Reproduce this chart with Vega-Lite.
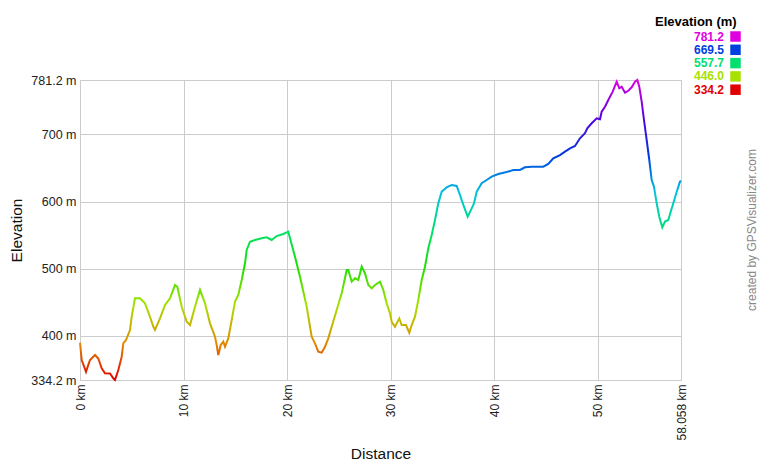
{
  "$schema": "https://vega.github.io/schema/vega-lite/v6.json",
  "autosize": "none",
  "width": 601,
  "height": 300,
  "padding": {"left": 80, "top": 80, "right": 79, "bottom": 80},
  "background": "white",
  "config": {
    "font": "Liberation Sans",
    "view": {"stroke": "#cccccc", "strokeWidth": 1}
  },
  "title": {
    "text": "created by GPSVisualizer.com",
    "orient": "right",
    "anchor": "middle",
    "angle": -90,
    "baseline": "top",
    "frame": "group",
    "offset": -6,
    "fontSize": 12,
    "fontWeight": "normal",
    "color": "#888888"
  },
  "datasets": {
    "profile": [
      {"km": 0.000, "ele": 390.0}, {"km": 0.164, "ele": 364.0}, {"km": 0.580, "ele": 346.6}, {"km": 0.966, "ele": 364.0},
      {"km": 1.449, "ele": 371.4}, {"km": 1.768, "ele": 366.2}, {"km": 2.096, "ele": 351.6}, {"km": 2.415, "ele": 344.2},
      {"km": 2.898, "ele": 344.0}, {"km": 3.217, "ele": 336.7}, {"km": 3.381, "ele": 334.2}, {"km": 3.700, "ele": 349.0},
      {"km": 4.028, "ele": 368.9}, {"km": 4.183, "ele": 388.8}, {"km": 4.444, "ele": 393.8}, {"km": 4.830, "ele": 408.7},
      {"km": 4.994, "ele": 428.5}, {"km": 5.313, "ele": 455.9}, {"km": 5.796, "ele": 455.9}, {"km": 6.279, "ele": 448.4},
      {"km": 6.762, "ele": 428.5}, {"km": 7.081, "ele": 413.6}, {"km": 7.245, "ele": 408.7}, {"km": 7.728, "ele": 426.0},
      {"km": 8.211, "ele": 445.9}, {"km": 8.694, "ele": 455.9}, {"km": 9.177, "ele": 475.7}, {"km": 9.399, "ele": 473.2},
      {"km": 9.824, "ele": 443.4}, {"km": 10.307, "ele": 421.0}, {"km": 10.626, "ele": 416.1}, {"km": 11.109, "ele": 443.4},
      {"km": 11.592, "ele": 468.3}, {"km": 12.075, "ele": 448.4}, {"km": 12.558, "ele": 418.6}, {"km": 13.041, "ele": 398.7},
      {"km": 13.205, "ele": 386.3}, {"km": 13.360, "ele": 371.4}, {"km": 13.592, "ele": 386.3}, {"km": 13.843, "ele": 391.3},
      {"km": 14.007, "ele": 383.8}, {"km": 14.326, "ele": 396.2}, {"km": 14.654, "ele": 423.6}, {"km": 14.973, "ele": 450.9},
      {"km": 15.292, "ele": 460.8}, {"km": 15.620, "ele": 483.2}, {"km": 15.939, "ele": 508.1}, {"km": 16.103, "ele": 527.9},
      {"km": 16.422, "ele": 540.3}, {"km": 16.905, "ele": 542.8}, {"km": 17.552, "ele": 545.3}, {"km": 18.035, "ele": 546.8},
      {"km": 18.518, "ele": 542.8}, {"km": 19.001, "ele": 548.7}, {"km": 19.639, "ele": 551.7}, {"km": 20.122, "ele": 555.2},
      {"km": 20.286, "ele": 545.3}, {"km": 20.769, "ele": 517.9}, {"km": 21.252, "ele": 488.1}, {"km": 21.899, "ele": 443.4},
      {"km": 22.382, "ele": 398.7}, {"km": 22.701, "ele": 388.8}, {"km": 23.020, "ele": 376.3}, {"km": 23.348, "ele": 374.9},
      {"km": 23.667, "ele": 383.8}, {"km": 23.986, "ele": 396.2}, {"km": 24.314, "ele": 413.6}, {"km": 24.797, "ele": 438.5},
      {"km": 25.280, "ele": 463.3}, {"km": 25.763, "ele": 498.0}, {"km": 25.918, "ele": 498.0}, {"km": 26.246, "ele": 480.7},
      {"km": 26.565, "ele": 485.7}, {"km": 26.884, "ele": 483.2}, {"km": 27.212, "ele": 503.0}, {"km": 27.531, "ele": 493.1},
      {"km": 27.850, "ele": 475.7}, {"km": 28.178, "ele": 470.8}, {"km": 28.497, "ele": 475.7}, {"km": 28.980, "ele": 480.7},
      {"km": 29.299, "ele": 468.3}, {"km": 29.627, "ele": 448.4}, {"km": 29.946, "ele": 433.5}, {"km": 30.110, "ele": 421.0},
      {"km": 30.429, "ele": 413.6}, {"km": 30.844, "ele": 426.0}, {"km": 31.076, "ele": 416.1}, {"km": 31.491, "ele": 416.1},
      {"km": 31.810, "ele": 404.6}, {"km": 32.042, "ele": 416.1}, {"km": 32.361, "ele": 428.5}, {"km": 32.680, "ele": 453.4},
      {"km": 33.008, "ele": 483.2}, {"km": 33.327, "ele": 503.0}, {"km": 33.646, "ele": 530.4}, {"km": 33.974, "ele": 550.2},
      {"km": 34.293, "ele": 572.6}, {"km": 34.612, "ele": 597.4}, {"km": 34.940, "ele": 614.8}, {"km": 35.423, "ele": 621.3},
      {"km": 35.906, "ele": 624.8}, {"km": 36.389, "ele": 623.3}, {"km": 36.708, "ele": 609.8}, {"km": 37.094, "ele": 592.4},
      {"km": 37.452, "ele": 577.5}, {"km": 37.838, "ele": 590.0}, {"km": 38.060, "ele": 597.4}, {"km": 38.321, "ele": 614.8},
      {"km": 38.804, "ele": 627.3}, {"km": 39.287, "ele": 632.2}, {"km": 39.770, "ele": 637.2}, {"km": 40.408, "ele": 641.1},
      {"km": 41.219, "ele": 644.0}, {"km": 41.857, "ele": 647.0}, {"km": 42.504, "ele": 647.1}, {"km": 42.987, "ele": 651.1},
      {"km": 43.634, "ele": 652.1}, {"km": 44.755, "ele": 652.1}, {"km": 45.238, "ele": 656.1}, {"km": 45.721, "ele": 664.5},
      {"km": 46.368, "ele": 669.4}, {"km": 46.851, "ele": 674.4}, {"km": 47.334, "ele": 679.4}, {"km": 47.817, "ele": 682.9},
      {"km": 48.300, "ele": 694.3}, {"km": 48.783, "ele": 701.8}, {"km": 49.005, "ele": 709.2}, {"km": 49.430, "ele": 716.7},
      {"km": 49.913, "ele": 724.1}, {"km": 50.232, "ele": 722.6}, {"km": 50.396, "ele": 733.9}, {"km": 50.715, "ele": 741.4},
      {"km": 51.034, "ele": 751.4}, {"km": 51.459, "ele": 763.8}, {"km": 51.845, "ele": 778.7}, {"km": 52.097, "ele": 768.8},
      {"km": 52.328, "ele": 771.2}, {"km": 52.647, "ele": 762.3}, {"km": 52.966, "ele": 765.2}, {"km": 53.294, "ele": 770.3},
      {"km": 53.613, "ele": 778.7}, {"km": 53.835, "ele": 781.2}, {"km": 54.028, "ele": 771.2}, {"km": 54.260, "ele": 748.9},
      {"km": 54.482, "ele": 721.6}, {"km": 54.743, "ele": 691.8}, {"km": 54.994, "ele": 662.0}, {"km": 55.226, "ele": 632.2},
      {"km": 55.448, "ele": 622.2}, {"km": 55.709, "ele": 597.4}, {"km": 55.960, "ele": 577.5}, {"km": 56.250, "ele": 561.7},
      {"km": 56.511, "ele": 570.2}, {"km": 56.830, "ele": 572.6}, {"km": 57.062, "ele": 585.0}, {"km": 57.313, "ele": 597.4},
      {"km": 57.642, "ele": 614.8}, {"km": 57.960, "ele": 629.7}, {"km": 58.058, "ele": 631.0}
    ],
    "legend": [
      {"lab": "781.2"}, {"lab": "669.5"}, {"lab": "557.7"}, {"lab": "446.0"}, {"lab": "334.2"}
    ]
  },
  "layer": [
    {
      "data": {"name": "profile"},
      "mark": {
        "type": "line",
        "strokeWidth": 2,
        "color": {
          "gradient": "linear",
          "x1": 0, "y1": 1, "x2": 0, "y2": 0,
          "stops": [
            {"offset": 0, "color": "#e00000"},
            {"offset": 0.125, "color": "#e08c00"},
            {"offset": 0.25, "color": "#a8e000"},
            {"offset": 0.375, "color": "#1ce000"},
            {"offset": 0.5, "color": "#00e070"},
            {"offset": 0.625, "color": "#00c4e0"},
            {"offset": 0.75, "color": "#0038e0"},
            {"offset": 0.875, "color": "#5400e0"},
            {"offset": 1, "color": "#e000e0"}
          ]
        }
      },
      "encoding": {
        "x": {
          "field": "km", "type": "quantitative",
          "scale": {"domain": [0, 58.058], "nice": false, "zero": false},
          "axis": {
            "values": [0, 10, 20, 30, 40, 50, 58.058],
            "labelExpr": "datum.value + ' km'",
            "labelAngle": 270,
            "labelAlign": "right",
            "labelBaseline": "middle",
            "labelFontSize": 12,
            "labelColor": "#222222",
            "labelPadding": 4,
            "labelOverlap": false,
            "labelFlush": false,
            "ticks": false,
            "domainColor": "#cccccc",
            "gridColor": "#cccccc",
            "title": "Distance",
            "titleFontSize": 15.5,
            "titleFontWeight": "normal",
            "titleColor": "#111111",
            "titleX": 300.5,
            "titleY": 78,
            "titleAlign": "center",
            "titleBaseline": "alphabetic"
          }
        },
        "y": {
          "field": "ele", "type": "quantitative",
          "scale": {"domain": [334.2, 781.2], "nice": false, "zero": false},
          "axis": {
            "values": [334.2, 400, 500, 600, 700, 781.2],
            "labelExpr": "datum.value + ' m'",
            "labelFontSize": 12.5,
            "labelColor": "#222222",
            "labelPadding": 4,
            "labelOverlap": false,
            "labelFlush": false,
            "ticks": false,
            "domainColor": "#cccccc",
            "gridColor": "#cccccc",
            "title": "Elevation",
            "titleFontSize": 15.5,
            "titleFontWeight": "normal",
            "titleColor": "#111111",
            "titleX": -59,
            "titleY": 150,
            "titleAlign": "center",
            "titleBaseline": "alphabetic"
          }
        }
      }
    },
    {
      "data": {"name": "legend"},
      "mark": {"type": "square", "opacity": 0},
      "encoding": {
        "color": {
          "field": "lab", "type": "nominal",
          "scale": {
            "domain": ["781.2", "669.5", "557.7", "446.0", "334.2"],
            "range": ["#e000e0", "#0040e0", "#00e070", "#a8e000", "#e00000"]
          },
          "legend": {
            "orient": "none",
            "legendX": 575,
            "legendY": -64.5,
            "padding": 0,
            "title": "Elevation (m)",
            "titleFontSize": 13,
            "titleFontWeight": "bold",
            "titleColor": "#000000",
            "titleAnchor": "start",
            "titlePadding": 2,
            "labelFontSize": 12,
            "labelFontWeight": "bold",
            "symbolType": "square",
            "symbolSize": 110,
            "symbolOpacity": 1,
            "symbolStrokeWidth": 0,
            "rowPadding": 1.3,
            "encode": {
              "symbols": {"update": {"x": {"value": 80.5}, "opacity": {"value": 1}}},
              "labels": {"update": {"x": {"value": 69}, "align": {"value": "right"}, "fill": {"scale": "color", "field": "value"}}}
            }
          }
        }
      }
    }
  ]
}
